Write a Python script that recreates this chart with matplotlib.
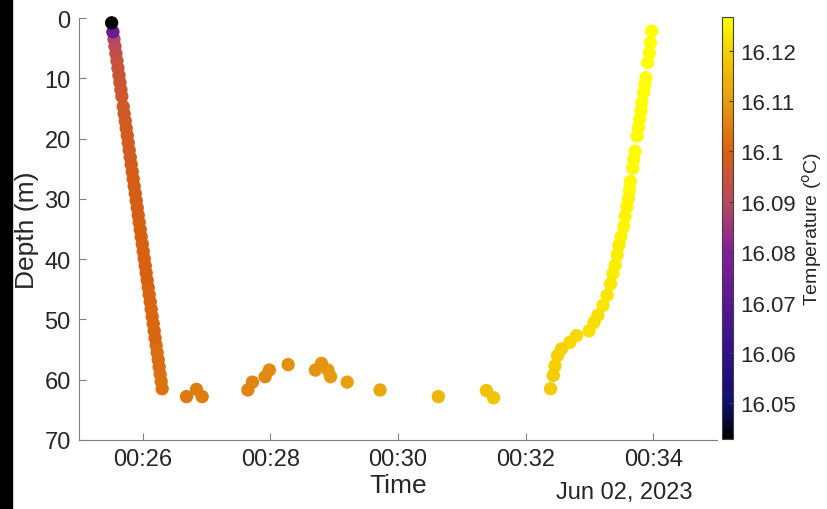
import matplotlib
matplotlib.use("Agg")
import matplotlib.pyplot as plt
import matplotlib.dates as mdates
from matplotlib.colors import LinearSegmentedColormap, Normalize
import numpy as np
import pandas as pd

plt.rcParams['font.family'] = ['Liberation Sans', 'DejaVu Sans']

# ---- data: seconds after 00:25:00, depth (m), temperature (degC) ----
start = pd.Timestamp("2023-06-02 00:25:00")

descent_sec = [30.7, 31.9, 32.9, 33.8, 34.7, 35.7, 36.6, 37.6, 38.5, 39.4,
               40.3, 41.6, 42.5, 43.5, 44.4, 45.4, 46.3, 47.2, 48.2, 49.1,
               50.1, 51.0, 51.9, 52.9, 53.8, 54.8, 55.7, 56.6, 57.6, 58.5,
               59.5, 60.4, 61.3, 62.3, 63.2, 64.1, 65.1, 66.0, 67.0, 67.9,
               68.8, 69.8, 70.7, 71.6, 72.6, 73.5, 74.5, 75.4, 76.3, 77.3, 78.2]
descent_depth = [0.8, 2.3, 3.5, 4.7, 5.9, 7.1, 8.3, 9.5, 10.7, 11.9,
                 13.0, 14.7, 15.9, 17.1, 18.3, 19.5, 20.7, 21.9, 23.1, 24.3,
                 25.5, 26.7, 27.9, 29.1, 30.3, 31.5, 32.7, 33.9, 35.1, 36.3,
                 37.5, 38.7, 39.9, 41.1, 42.3, 43.5, 44.7, 45.9, 47.1, 48.3,
                 49.5, 50.7, 51.9, 53.1, 54.3, 55.5, 56.7, 57.9, 59.1, 60.3, 61.5]
descent_temp = [16.0429, 16.074, 16.090, 16.092, 16.093, 16.094, 16.095, 16.095, 16.096, 16.096,
                16.097, 16.097, 16.097, 16.098, 16.098, 16.098, 16.098, 16.098, 16.098, 16.099,
                16.099, 16.099, 16.099, 16.099, 16.099, 16.099, 16.099, 16.100, 16.100, 16.100,
                16.100, 16.100, 16.100, 16.100, 16.100, 16.100, 16.101, 16.101, 16.101, 16.101,
                16.101, 16.101, 16.101, 16.101, 16.102, 16.102, 16.102, 16.102, 16.103, 16.103, 16.103]

bottom_sec = [101.1, 110.5, 115.8, 158.8, 163.1, 175.0, 179.0, 196.7, 222.3, 228.0,
              234.1, 236.6, 252.2, 283.1, 337.9, 383.1, 389.9]
bottom_depth = [62.8, 61.6, 62.8, 61.7, 60.4, 59.5, 58.4, 57.5, 58.4, 57.3,
                58.4, 59.5, 60.4, 61.7, 62.8, 61.8, 63.0]
bottom_temp = [16.104, 16.105, 16.105, 16.106, 16.106, 16.107, 16.107, 16.108, 16.109, 16.109,
               16.110, 16.110, 16.111, 16.112, 16.115, 16.117, 16.118]

ascent_sec = [443.5, 446.0, 447.6, 450.0, 453.7, 461.6, 467.8, 479.6, 484.3, 488.0,
              492.7, 496.7, 499.9, 502.1, 504.2, 506.1, 507.7, 509.8, 512.3, 513.6,
              515.4, 516.7, 517.7, 518.6, 520.8, 521.7, 522.9, 524.8, 526.1, 527.3,
              528.5, 529.2, 531.0, 532.3, 533.2, 534.8, 536.4, 537.3, 538.5]
ascent_depth = [61.5, 59.3, 57.7, 56.0, 54.9, 53.8, 52.7, 51.9, 50.5, 49.3,
                47.7, 46.0, 44.1, 42.4, 41.0, 39.3, 37.7, 36.3, 34.6, 32.9,
                31.3, 29.9, 28.5, 27.1, 24.9, 23.5, 22.1, 19.6, 18.2, 16.8,
                15.4, 14.0, 12.4, 11.0, 9.9, 7.4, 5.8, 4.1, 2.2]
ascent_temp = [16.119, 16.119, 16.120, 16.120, 16.120, 16.121, 16.121, 16.122, 16.122, 16.122,
               16.123, 16.123, 16.123, 16.124, 16.124, 16.124, 16.124, 16.125, 16.125, 16.125,
               16.125, 16.125, 16.126, 16.126, 16.126, 16.126, 16.126, 16.126, 16.126, 16.126,
               16.126, 16.1265, 16.1265, 16.1265, 16.1265, 16.1267, 16.1267, 16.1267, 16.1267]

cbar_ticks = [16.05, 16.06, 16.07, 16.08, 16.09, 16.1, 16.11, 16.12]
cbar_ticklabels = ["16.05", "16.06", "16.07", "16.08", "16.09", "16.1", "16.11", "16.12"]

secs = descent_sec + bottom_sec + ascent_sec
depth = descent_depth + bottom_depth + ascent_depth
temp = descent_temp + bottom_temp + ascent_temp
times = start + pd.to_timedelta(secs, unit="s")

# colormap black -> navy -> purple -> orange -> yellow
cmap = LinearSegmentedColormap.from_list("tempmap", [
    (0.0, "#000000"), (0.085, "#10106e"), (0.204, "#30108a"), (0.323, "#5a1890"),
    (0.443, "#80209a"), (0.562, "#b84860"), (0.681, "#d86010"), (0.80, "#e89a10"),
    (0.919, "#f5d000"), (1.0, "#ffff00")])
norm = Normalize(vmin=min(temp), vmax=max(temp))

W, H = 827, 510
fig = plt.figure(figsize=(W / 100, H / 100), dpi=100)
ax = fig.add_axes([79 / W, 1 - 441 / H, (717 - 79) / W, (441 - 19) / H])
cax = fig.add_axes([722 / W, 1 - 440 / H, 11 / W, (440 - 18) / H])

# black strip at left border of the screenshot
fig.patches.append(plt.Rectangle((0, 0), 12 / W, 1, transform=fig.transFigure,
                                 color="black", zorder=0))

# plot in reverse so the first (black) sample sits on top
sc = ax.scatter(times[::-1], depth[::-1], c=temp[::-1], cmap=cmap, norm=norm,
                s=92, linewidths=0, clip_on=False)

ax.set_ylim(70, 0)
ax.set_yticks(np.arange(0, 71, 10))
ax.set_xlim(start, start + pd.Timedelta(minutes=10))
ax.xaxis.set_major_locator(mdates.MinuteLocator(byminute=[26, 28, 30, 32, 34]))
ax.xaxis.set_major_formatter(mdates.DateFormatter("%H:%M"))

gray = "#808080"
txt = "#262626"
for s in ["top", "right"]:
    ax.spines[s].set_visible(False)
for s in ["left", "bottom"]:
    ax.spines[s].set_color(gray)
ax.tick_params(direction="in", length=5, color=gray, labelcolor=txt, labelsize=17, pad=6)
ax.set_ylabel("Depth (m)", fontsize=19, color=txt, labelpad=4)
ax.set_xlabel("Time", fontsize=19, color=txt, labelpad=2)
fig.text(693 / W, 1 - 493 / H, "Jun 02, 2023", ha="right", va="center", fontsize=17, color=txt)

cb = fig.colorbar(sc, cax=cax)
cb.set_ticks(cbar_ticks)
cb.set_ticklabels(cbar_ticklabels)
cb.outline.set_edgecolor("#404040")
cb.ax.tick_params(direction="in", length=3, color="#404040", labelcolor=txt, labelsize=16, pad=5)
cb.set_label("Temperature ($^{\\mathrm{o}}$C)", fontsize=14, color=txt, labelpad=3)

fig.savefig("out.png", dpi=100)
